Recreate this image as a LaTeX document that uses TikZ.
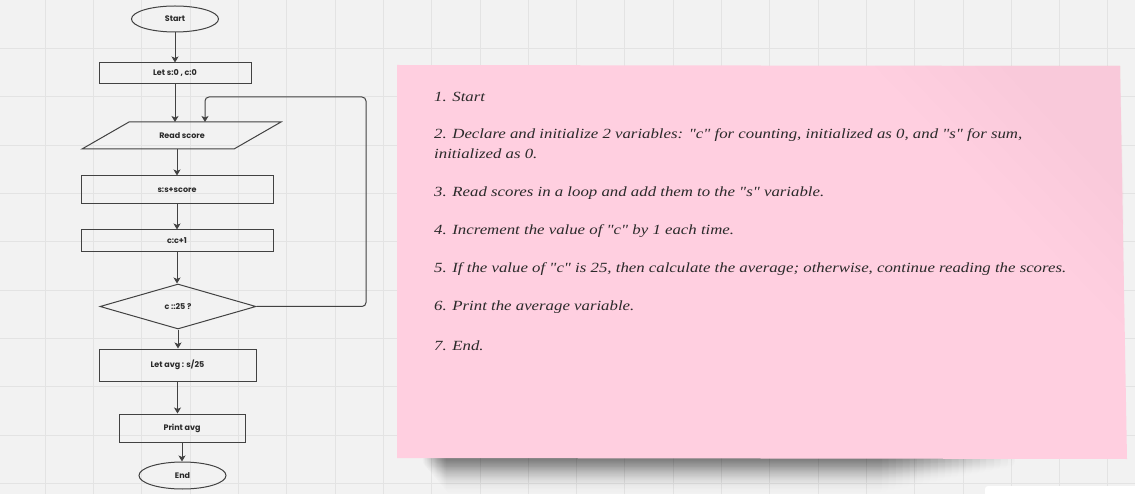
\documentclass[tikz,border=0pt]{standalone}
\usepackage{fontspec}
\setmainfont{Poppins}
\newfontfamily\notefont{Liberation Serif}[FakeStretch=1.2]
\usetikzlibrary{shapes.geometric,arrows.meta,fadings}
\definecolor{bg}{HTML}{F2F2F2}
\definecolor{gridc}{HTML}{E3E3E3}
\definecolor{linec}{HTML}{424242}
\definecolor{pinkc}{HTML}{FFCFE0}
\definecolor{pinkd}{HTML}{F5C0D4}
\definecolor{txt}{HTML}{2A2A2A}
\tikzfading[name=shadowfade, top color=transparent!0, bottom color=transparent!100]
\tikzset{
  fc/.style={draw=linec, line width=1pt, text=txt, inner sep=0pt,
    font=\bfseries\fontsize{8}{9}\selectfont},
  procbox/.style={fc, rectangle},
  termbox/.style={fc, ellipse},
  decbox/.style={fc, diamond},
  conn/.style={draw=linec, line width=1pt, -{Stealth[length=6pt,width=7pt,inset=1.5pt]}},
  notetext/.style={anchor=west, inner sep=0pt, text=txt, font=\notefont\itshape\fontsize{14}{16}\selectfont}
}
\begin{document}
\begin{tikzpicture}[x=1pt,y=-1pt]
\useasboundingbox (0,0) rectangle (1135,494);
\clip (0,0) rectangle (1135,494);
\fill[bg] (0,0) rectangle (1135,494);
% grid
\foreach \k in {0,...,22} {
  \draw[gridc, line width=0.9pt] ({45.3+48.3*\k},0) -- ({45.3+48.3*\k},494);
}
\foreach \k in {1,...,10} {
  \draw[gridc, line width=0.9pt] (0,{0.3+48.3*\k}) -- (1135,{0.3+48.3*\k});
}
% shadow of note
\foreach \i in {0,...,19} {
  \fill[black, opacity=0.04, path fading=shadowfade, rounded corners=7pt]
    ({423+\i*1.2},452) rectangle ({1015-\i*7},{468+\i*1.4});
}
% note
\fill[pinkc] (397,65) -- (1120,66) -- (1127,459) -- (397,458) -- cycle;
\foreach \i in {0,...,5} {
  \fill[pinkd, opacity=0.06] (1120,66) -- ({1000-\i*25},66) -- (1124,{200+\i*25}) -- cycle;
}
% white box bottom right
\fill[white, rounded corners=3pt] (985,500) -- (985,486) -- (1140,486) -- (1140,500) -- cycle;

% note text
\node[notetext] (n1) at (434,97) {1. Start};
\node[notetext] (n2a) at (434,135) {2. Declare and initialize 2 variables: "c" for counting, initialized as 0, and "s" for sum,};
\node[notetext] (n2b) at (434,154) {initialized as 0.};
\node[notetext] (n3) at (434,193) {3. Read scores in a loop and add them to the "s" variable.};
\node[notetext] (n4) at (434,231) {4. Increment the value of "c" by 1 each time.};
\node[notetext] (n5) at (434,269) {5. If the value of "c" is 25, then calculate the average; otherwise, continue reading the scores.};
\node[notetext] (n6) at (434,307) {6. Print the average variable.};
\node[notetext] (n7) at (434,346) {7. End.};

% flowchart
\node[termbox, minimum width=87pt, minimum height=26pt] (start) at (175,19) {Start};
\node[procbox, minimum width=152pt, minimum height=21pt] (let) at (175,73.5) {Let s:0 , c:0};
\coordinate (rtl) at (129,122);
\coordinate (rtr) at (281,122);
\coordinate (rbr) at (234,149);
\coordinate (rbl) at (82,149);
\draw[linec, line width=1pt] (rtl) -- (rtr) -- (rbr) -- (rbl) -- cycle;
\node[text=txt, inner sep=0pt, font=\bfseries\fontsize{8}{9}\selectfont] (read) at (182,135.5) {Read score};
\node[procbox, minimum width=192pt, minimum height=28pt] (ss) at (177,190) {s:s+score};
\node[procbox, minimum width=192pt, minimum height=22pt] (cc) at (177,241) {c:c+1};
\node[decbox, minimum width=156pt, minimum height=45pt] (dec) at (178,306.5) {c ::25 ?};
\node[procbox, minimum width=157pt, minimum height=32pt] (avg) at (177.5,365) {Let avg : s/25};
\node[procbox, minimum width=126pt, minimum height=28pt] (prt) at (182,428) {Print avg};
\node[termbox, minimum width=87pt, minimum height=27pt] (end) at (182.5,475.5) {End};

\coordinate (loopR) at (366,97);
\coordinate (loopL) at (205,97);

\draw[conn] (start.south) -- (let.north);
\draw[conn] (let.south) -- (let.south |- rtl);
\draw[conn] (ss.north |- rbl) -- (ss.north);
\draw[conn] (ss.south) -- (cc.north);
\draw[conn] (cc.south) -- (cc.south |- dec.north);
\draw[conn] (dec.south) -- (dec.south |- avg.north);
\draw[conn] (avg.south) -- (avg.south |- prt.north);
\draw[conn] (prt.south) -- (prt.south |- end.north);
\draw[conn, rounded corners=4pt] (dec.east) -| (loopR) -- (loopL) -- (loopL |- rtl);
\end{tikzpicture}
\end{document}
